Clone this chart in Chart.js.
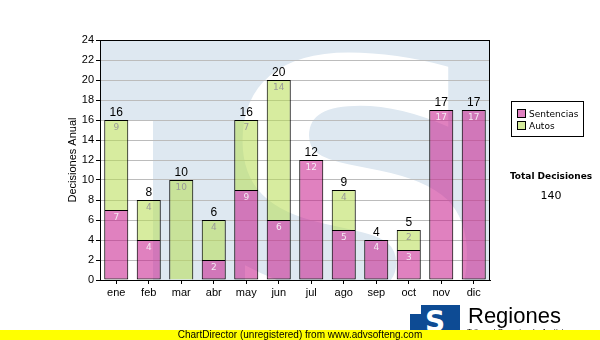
<!DOCTYPE html>
<html><head><meta charset="utf-8">
<script src="https://cdn.jsdelivr.net/npm/chart.js@4.4.0/dist/chart.umd.min.js"></script>
<style>
html,body{margin:0;padding:0;background:#fff;}
#wrap{position:relative;width:600px;height:340px;overflow:hidden;font-family:"Liberation Sans",Arial,sans-serif;}
#c{position:absolute;left:0;top:0;}
#legend{position:absolute;left:511px;top:101px;width:71px;height:34px;border:1px solid #000;background:#fff;font:9px "DejaVu Sans",Verdana,sans-serif;}
#legend div{position:absolute;left:5px;white-space:nowrap;line-height:10px;}
#legend i{display:inline-block;width:7px;height:7px;border:1px solid #000;margin-right:3px;vertical-align:-1px;}
#total{position:absolute;left:500px;width:102px;top:171px;text-align:center;font:bold 9px "DejaVu Sans",Verdana,sans-serif;}
#totalv{position:absolute;left:500px;width:102px;top:189px;text-align:center;font:11px "DejaVu Sans",Verdana,sans-serif;}
#logo{position:absolute;left:410px;top:305px;width:50px;height:30px;background:#0d4b94;color:#fff;font:bold 28px "DejaVu Sans",sans-serif;text-align:center;line-height:33px;overflow:hidden;}
#logo:before{content:"";position:absolute;left:0;top:0;width:11px;height:9px;background:#fff;}
#reg{position:absolute;left:468px;top:303px;font:22px "Liberation Sans",Arial,sans-serif;}
#sub{position:absolute;left:467px;top:327px;font:8px "Liberation Sans",Arial,sans-serif;}
#bar{position:absolute;left:0;top:330px;width:600px;height:10px;background:#ffff00;font:10px "Liberation Sans",Arial,sans-serif;text-align:center;line-height:10px;}
</style></head>
<body><div id="wrap">
<canvas id="c" width="600" height="340"></canvas>
<div id="legend"><div style="top:7px"><i style="background:#df80c0"></i>Sentencias</div><div style="top:19px"><i style="background:#d6ec9c"></i>Autos</div></div>
<div id="total">Total Decisiones</div>
<div id="totalv">140</div>
<div id="logo">S</div>
<div id="reg">Regiones</div>
<div id="sub">Tribunal Superior de Justicia</div>
<div id="bar">ChartDirector (unregistered) from www.advsofteng.com</div>
</div>
<script>
'use strict';
const meses=['ene','feb','mar','abr','may','jun','jul','ago','sep','oct','nov','dic'];
const sentencias=[7,4,0,2,9,6,12,5,4,3,17,17];
const autos=[9,4,10,4,7,14,0,4,0,2,0,0];
const yMax=24, yStep=2;

// fondo con la marca de agua (S grande) dentro del area del grafico
const fondo={id:'fondo',beforeDraw(ch){
  const {ctx,chartArea:a}=ch;
  ctx.save();
  ctx.beginPath(); ctx.rect(a.left,a.top,a.right-a.left,a.bottom-a.top); ctx.clip();
  ctx.fillStyle='#fff'; ctx.fillRect(a.left,a.top,a.right-a.left,a.bottom-a.top);
  ctx.fillStyle='#dee8f1';
  ctx.fillRect(153,a.top,a.right-153,a.bottom-a.top);
  ctx.fillRect(a.left,a.top,60,80);
  ctx.fillStyle='#fff';
  ctx.font='bold 390px "DejaVu Sans"'; ctx.textAlign='center'; ctx.textBaseline='alphabetic';
  ctx.fillText('S',355,342);
  ctx.restore();
}};
const marco={id:'marco',afterDraw(ch){
  const {ctx,chartArea:a}=ch;
  ctx.save(); ctx.strokeStyle='#000'; ctx.lineWidth=1;
  ctx.strokeRect(Math.round(a.left)+.5,Math.round(a.top)+.5,Math.round(a.right-a.left)-1,Math.round(a.bottom-a.top));
  ctx.restore();
}};
// etiquetas: valor de cada segmento y total encima
const etiquetas={id:'etiquetas',afterDatasetsDraw(ch){
  const ctx=ch.ctx; ctx.save(); ctx.textAlign='center';
  const m0=ch.getDatasetMeta(0), m1=ch.getDatasetMeta(1);
  [[m0,sentencias,'#f4eaf2'],[m1,autos,'#9a9a9a']].forEach(([m,vals,col])=>{
    ctx.font='9px "DejaVu Sans"'; ctx.fillStyle=col; ctx.textBaseline='top';
    m.data.forEach((b,i)=>{ if(vals[i]) ctx.fillText(String(vals[i]),b.x,b.y+3); });
  });
  ctx.font='12px "Liberation Sans"'; ctx.fillStyle='#000'; ctx.textBaseline='bottom';
  meses.forEach((_,i)=>{
    const t=sentencias[i]+autos[i];
    const b=autos[i]?m1.data[i]:m0.data[i];
    ctx.fillText(String(t),b.x,b.y-1);
  });
  ctx.restore();
}};

new Chart(document.getElementById('c'),{
  type:'bar',
  data:{labels:meses,datasets:[
    {label:'Sentencias',data:sentencias,backgroundColor:'rgba(199,30,140,0.56)',borderColor:'#000',borderWidth:1,borderSkipped:false,barPercentage:0.74,categoryPercentage:1},
    {label:'Autos',data:autos,backgroundColor:'rgba(182,220,80,0.55)',borderColor:'#000',borderWidth:1,borderSkipped:'bottom',barPercentage:0.74,categoryPercentage:1}
  ]},
  options:{responsive:false,animation:false,
    layout:{padding:{left:60,right:110,top:40,bottom:40}},
    plugins:{legend:{display:false},tooltip:{enabled:false}},
    scales:{
      x:{stacked:true,
        grid:{drawOnChartArea:false,drawTicks:true,tickLength:4,tickColor:'#000',offset:false},
        border:{color:'#000'},
        ticks:{color:'#000',font:{family:'Liberation Sans',size:11},padding:2,maxRotation:0},
        afterFit(s){s.height=20;}},
      y:{stacked:true,min:0,max:yMax,
        grid:{color:'#bcbcbc',tickLength:4,tickColor:'#000'},
        border:{color:'#000'},
        ticks:{stepSize:yStep,color:'#000',font:{family:'Liberation Sans',size:11},padding:2},
        title:{display:true,text:'Decisiones Anual',color:'#000',font:{family:'Liberation Sans',size:11},padding:{top:6}},
        afterFit(s){s.width=40;}}
    }
  },
  plugins:[fondo,etiquetas,marco]
});
</script>
</body></html>
